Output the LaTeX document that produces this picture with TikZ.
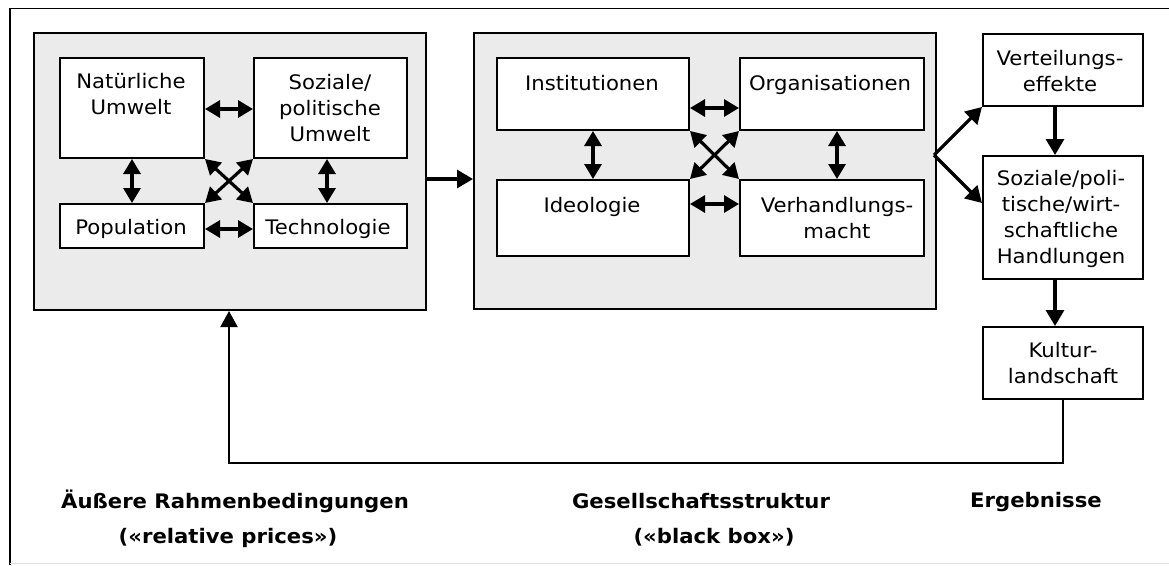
\documentclass[tikz,border=0pt]{standalone}
\usepackage{fontspec}
\setmainfont{DejaVu Sans}[FakeStretch=1.06]
\usetikzlibrary{arrows.meta}
\definecolor{panelgray}{HTML}{EBEBEB}
\newcommand\myst{\rule{0pt}{19pt}}
\begin{document}
\begin{tikzpicture}[x=1pt,y=-1pt,
 panel/.style={draw=black, line width=2pt, fill=panelgray, anchor=north west, inner sep=0pt},
 box/.style={draw=black, line width=2pt, fill=white, anchor=north west, inner sep=0pt},
 txt/.style={font=\fontsize{20}{26}\selectfont, align=center, inner sep=0pt, anchor=north},
 lbl/.style={font=\fontsize{20}{26}\selectfont\bfseries, inner sep=0pt, anchor=base},
 dbl/.style={{Triangle[length=15pt,width=17pt]}-{Triangle[length=15pt,width=17pt]}, line width=3.2pt},
 one/.style={-{Triangle[length=16pt,width=18pt]}, line width=3.2pt},
 fb/.style={-{Triangle[length=16pt,width=17pt]}, line width=2pt},
]
\useasboundingbox (0,0) rectangle (1169,565);
\fill[white] (0,0) rectangle (1169,565);
% outer frame
\draw[line width=1.5pt] (10,565) -- (10,8.5) -- (1169,8.5);
\draw[gray!25, line width=1pt] (10,563.5) -- (1169,563.5);

% panels
\node[panel, minimum width=392pt, minimum height=277pt] (p1) at (33,32) {};
\node[panel, minimum width=462pt, minimum height=276pt] (p2) at (473,32) {};

% panel 1 boxes
\node[box, minimum width=144pt, minimum height=100pt] (nat) at (59,57) {};
\node[box, minimum width=153pt, minimum height=100pt] (soz) at (253,57) {};
\node[box, minimum width=144pt, minimum height=44pt] (pop) at (59,203) {};
\node[box, minimum width=153pt, minimum height=44pt] (tech) at (253,203) {};
\node[txt] at (131,69) {\myst Natürliche\\Umwelt};
\node[txt] at (330,70) {\myst Soziale/\\politische\\Umwelt};
\node[txt] at (131,215) {\myst Population};
\node[txt] at (328,215) {\myst Technologie};

\draw[dbl] (nat.east |- 0,109) -- (soz.west |- 0,109);
\draw[dbl] (pop.east |- 0,229) -- (tech.west |- 0,229);
\draw[dbl] (nat.south -| 132,0) -- (pop.north -| 132,0);
\draw[dbl] (soz.south -| 327,0) -- (tech.north -| 327,0);
\draw[dbl] (nat.south east) -- (tech.north west);
\draw[dbl] (soz.south west) -- (pop.north east);

% panel 2 boxes
\node[box, minimum width=192pt, minimum height=72pt] (inst) at (496,57) {};
\node[box, minimum width=184pt, minimum height=72pt] (org) at (739,57) {};
\node[box, minimum width=192pt, minimum height=76pt] (ideo) at (496,179) {};
\node[box, minimum width=184pt, minimum height=76pt] (verh) at (739,179) {};
\node[txt] at (592,71) {\myst Institutionen};
\node[txt] at (830,71) {\myst Organisationen};
\node[txt] at (592,193) {\myst Ideologie};
\node[txt] at (837,193) {\myst Verhandlungs-\\macht};

\draw[dbl] (inst.east |- 0,108) -- (org.west |- 0,108);
\draw[dbl] (ideo.east |- 0,204) -- (verh.west |- 0,204);
\draw[dbl] (inst.south -| 593,0) -- (ideo.north -| 593,0);
\draw[dbl] (org.south -| 837,0) -- (verh.north -| 837,0);
\draw[dbl] (inst.south east) -- (verh.north west);
\draw[dbl] (org.south west) -- (ideo.north east);

% panel link
\draw[one] (p1.east |- 0,179) -- (p2.west |- 0,179);

% right column
\node[box, minimum width=160pt, minimum height=72pt] (vert) at (982,33) {};
\node[box, minimum width=160pt, minimum height=123pt] (sozh) at (982,155) {};
\node[box, minimum width=160pt, minimum height=72pt] (kult) at (982,326) {};
\node[txt] at (1060,46) {\myst Verteilungs-\\effekte};
\node[txt] at (1061,166) {\myst Soziale/poli-\\tische/wirt-\\schaftliche\\Handlungen};
\node[txt] at (1063,338) {\myst Kultur-\\landschaft};

\coordinate (fork) at (934,155);
\draw[one] (fork) -- (vert.south west);
\draw[one] (fork) -- (sozh.west |- 0,203);
\draw[one] (vert.south -| 1055,0) -- (sozh.north -| 1055,0);
\draw[one] (sozh.south -| 1055,0) -- (kult.north -| 1055,0);

% feedback
\draw[fb] (kult.south -| 1063,0) -- (1063,463) -- (229,463) -- (p1.south -| 229,0);

% bottom labels
\node[lbl] at (235,508) {Äußere Rahmenbedingungen};
\node[lbl] at (228,543) {(«relative prices»)};
\node[lbl] at (701,508) {Gesellschaftsstruktur};
\node[lbl] at (714,543) {(«black box»)};
\node[lbl] at (1036,507) {Ergebnisse};
\end{tikzpicture}
\end{document}
